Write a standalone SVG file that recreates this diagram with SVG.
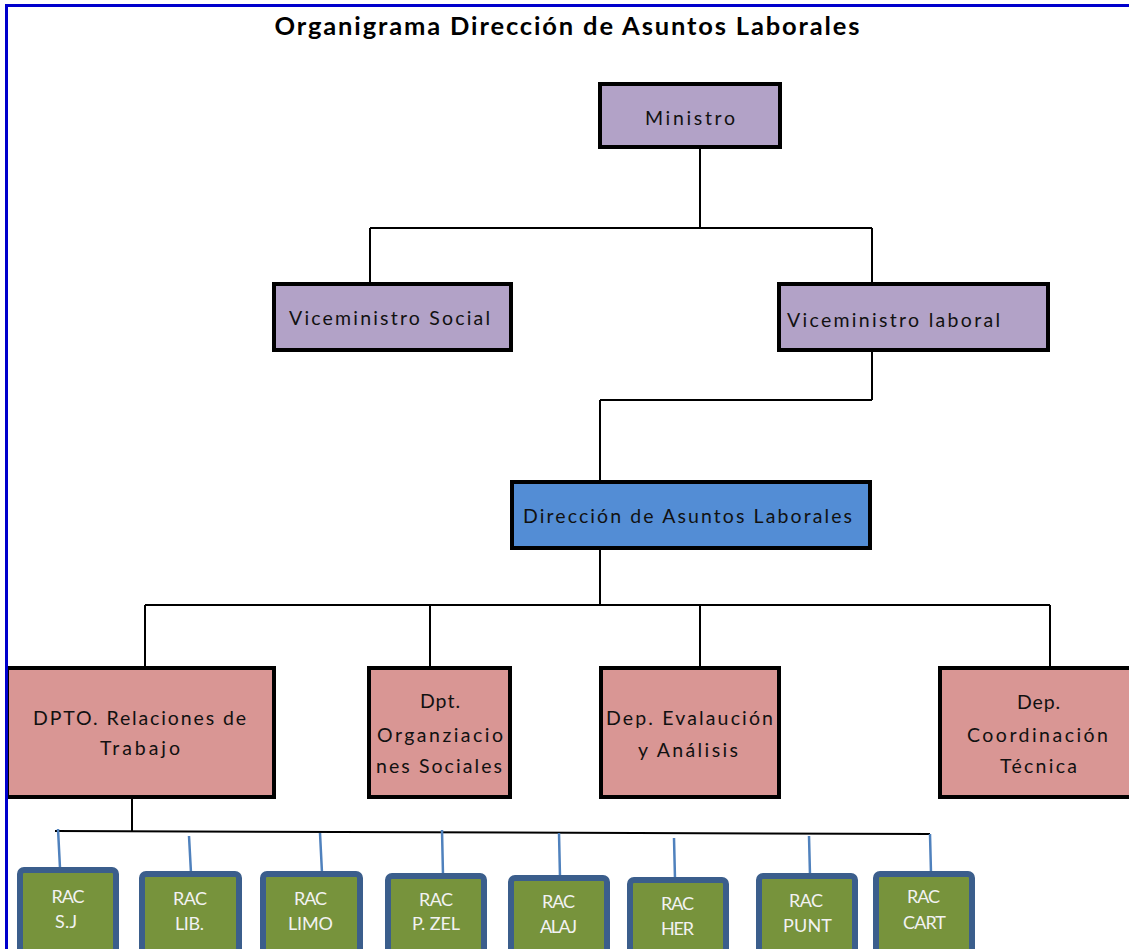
<svg xmlns="http://www.w3.org/2000/svg" width="1129" height="949" viewBox="0 0 1129 949">
<style>
.t{font-family:Lato,"Liberation Sans",sans-serif;font-size:19.5px;fill:#111;text-anchor:middle}
.w{font-family:Lato,"Liberation Sans",sans-serif;font-size:18px;fill:#f2f2f2;text-anchor:middle}
.box{stroke:#000;stroke-width:4}
.vm{fill:#b2a2c7}
.dir{fill:#538dd5}
.dep{fill:#d99694}
.rac{fill:#77933c;stroke:#3b5e8c;stroke-width:6}
.ln{stroke:#000;stroke-width:2;fill:none}
.tk{stroke:#4f81bd;stroke-width:2.5;fill:none}
</style>
<rect x="0" y="0" width="1129" height="949" fill="#fff"/>
<text x="567" y="35" font-family="Lato,'Liberation Sans',sans-serif" font-weight="bold" font-size="25.5" text-anchor="middle" fill="#000" textLength="585">Organigrama Dirección de Asuntos Laborales</text>
<g id="connectors">
<path class="ln" d="M700 148V228M370 228H872M370 228V283M872 228V283"/>
<path class="ln" d="M872 350V400M600 400H872M600 400V480"/>
<path class="ln" d="M600 549V605M145 605H1050M145 605V666M430 605V666M700 605V666M1050 605V666"/>
<path class="ln" d="M132 799V831M55 831L930 834"/>
<path class="tk" d="M58 829L60 868M189 836L191 873M320 833L322 873M442 830L443 875M559 833L560 877M674 838L675 879M809 836L810 875M930 834L931 873"/>
</g>
<g id="ministro"><rect class="box vm" x="600" y="84" width="180" height="63"/><text class="t" x="690" y="125" textLength="90">Ministro</text></g>
<g id="vice-social"><rect class="box vm" x="274" y="284" width="237" height="66"/><text class="t" x="389.5" y="325" textLength="201">Viceministro Social</text></g>
<g id="vice-laboral"><rect class="box vm" x="779" y="284" width="269" height="66"/><text class="t" x="893.5" y="327" textLength="213">Viceministro laboral</text></g>
<g id="direccion"><rect class="box dir" x="512" y="482" width="358" height="66"/><text class="t" x="687.5" y="523" textLength="329">Dirección de Asuntos Laborales</text></g>
<g id="dpto-relaciones"><rect class="box dep" x="7" y="668" width="267" height="129"/><text class="t" x="139.5" y="725" textLength="213">DPTO. Relaciones de</text><text class="t" x="140" y="755" textLength="80">Trabajo</text></g>
<g id="dpt-organizaciones"><rect class="box dep" x="369" y="668" width="141" height="129"/><text class="t" x="440" y="708" textLength="40">Dpt.</text><text class="t" x="440" y="742" textLength="126">Organziacio</text><text class="t" x="439" y="773" textLength="126">nes Sociales</text></g>
<g id="dep-evaluacion"><rect class="box dep" x="601" y="668" width="178" height="129"/><text class="t" x="689.5" y="725" textLength="167">Dep. Evalaución</text><text class="t" x="688" y="757" textLength="100">y Análisis</text></g>
<g id="dep-coordinacion"><rect class="box dep" x="940" y="668" width="200" height="129"/><text class="t" x="1038.5" y="709" textLength="43">Dep.</text><text class="t" x="1037.5" y="742" textLength="141">Coordinación</text><text class="t" x="1038.5" y="773" textLength="77">Técnica</text></g>
<g id="rac-sj"><rect class="rac" x="20" y="870" width="96" height="100" rx="4"/><text class="w" x="68" y="903" textLength="33">RAC</text><text class="w" x="66" y="928" textLength="22">S.J</text></g>
<g id="rac-lib"><rect class="rac" x="142" y="874" width="97" height="100" rx="4"/><text class="w" x="190" y="905" textLength="34">RAC</text><text class="w" x="189.5" y="930" textLength="29">LIB.</text></g>
<g id="rac-limo"><rect class="rac" x="263" y="874" width="97" height="100" rx="4"/><text class="w" x="310.5" y="905" textLength="33">RAC</text><text class="w" x="310.5" y="930" textLength="45">LIMO</text></g>
<g id="rac-pzel"><rect class="rac" x="388" y="876" width="96" height="100" rx="4"/><text class="w" x="436" y="906" textLength="34">RAC</text><text class="w" x="436" y="930" textLength="48">P. ZEL</text></g>
<g id="rac-alaj"><rect class="rac" x="511" y="878" width="96" height="100" rx="4"/><text class="w" x="558.5" y="908" textLength="33">RAC</text><text class="w" x="558.5" y="933" textLength="37">ALAJ</text></g>
<g id="rac-her"><rect class="rac" x="630" y="880" width="96" height="100" rx="4"/><text class="w" x="677.5" y="910" textLength="33">RAC</text><text class="w" x="677.5" y="935" textLength="33">HER</text></g>
<g id="rac-punt"><rect class="rac" x="759" y="876" width="96" height="100" rx="4"/><text class="w" x="806" y="907" textLength="34">RAC</text><text class="w" x="807.5" y="932" textLength="49">PUNT</text></g>
<g id="rac-cart"><rect class="rac" x="876" y="874" width="96" height="100" rx="4"/><text class="w" x="923.5" y="903" textLength="33">RAC</text><text class="w" x="924.5" y="929" textLength="43">CART</text></g>
<path d="M5 5.5H1129M6.5 4V949" stroke="#0000cc" stroke-width="3" fill="none"/>
</svg>
